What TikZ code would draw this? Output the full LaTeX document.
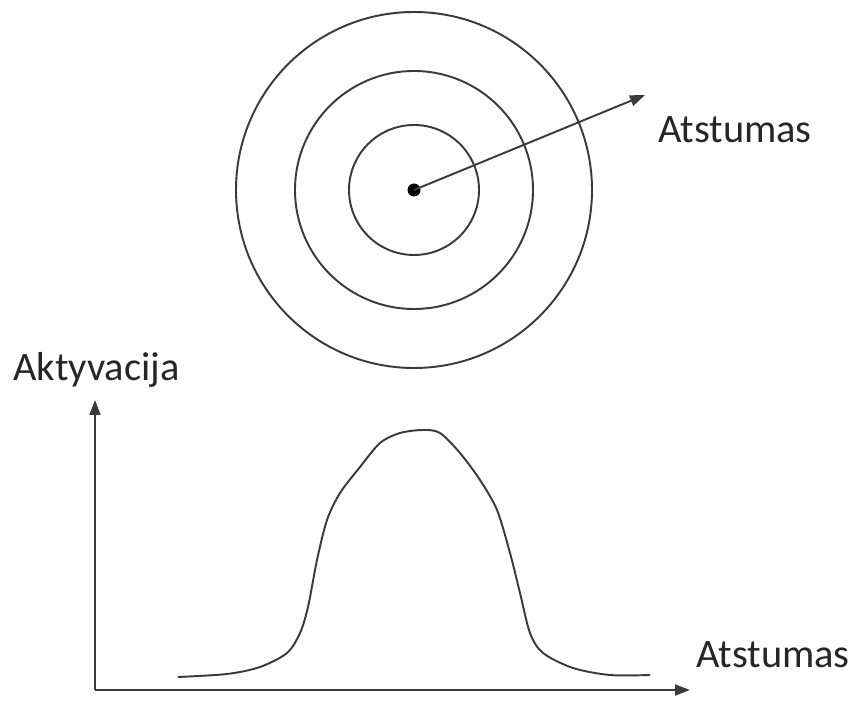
\documentclass[tikz,border=0pt]{standalone}
\usepackage{fontspec}
\setmainfont{Carlito}
\usetikzlibrary{arrows.meta}
\definecolor{inkgrey}{HTML}{3A3A3A}

\begin{document}
\begin{tikzpicture}[>={Triangle[length=0.3cm,width=0.22cm]},
  line width=1.1pt, draw=inkgrey,
  ring/.style={draw=inkgrey, circle, inner sep=0pt, minimum size=#1},
  dot/.style={fill=black, circle, inner sep=0pt, minimum size=0.26cm},
  lbl/.style={font=\fontsize{23}{28}\selectfont, text=black!85, inner sep=0pt}]

  \useasboundingbox (0,0) rectangle (17.1,14);

  % ---- top: rings round the centre ----
  \node[dot] (ctr) at (8.28,10.2) {};
  \node[ring=2.6cm] (r1) at (ctr) {};
  \node[ring=4.76cm] (r2) at (ctr) {};
  \node[ring=7.12cm] (r3) at (ctr) {};

  \coordinate (dirtip) at (12.9,12.1);
  \draw[->, draw=inkgrey] (ctr.center) -- (dirtip);
  \node[lbl] (dist) at (14.7,11.4) {Atstumas};

  % ---- bottom: activation over distance ----
  \coordinate (origin) at (1.9,0.2);
  \coordinate (ytip) at (1.9,6.0);
  \coordinate (xtip) at (13.8,0.2);
  \draw[->, draw=inkgrey] (origin) -- (ytip);
  \draw[->, draw=inkgrey] (origin) -- (xtip);
  \node[lbl] (act) at (1.93,6.6) {Aktyvacija};
  \node[lbl] (xdist) at (15.46,0.9) {Atstumas};

  \draw[inkgrey] plot[smooth, tension=0.5] coordinates {
    (3.56,0.46) (4.54,0.52) (5.2,0.66) (5.74,0.94) (6.0,1.34) (6.16,1.86)
    (6.34,2.8) (6.54,3.6) (6.8,4.14) (7.2,4.66) (7.6,5.14) (8.0,5.34)
    (8.46,5.4) (8.8,5.34) (9.2,4.94) (9.6,4.4) (9.94,3.8) (10.2,2.94)
    (10.4,2.14) (10.6,1.34) (10.86,0.94) (11.46,0.64) (12.2,0.5) (13.0,0.5)};

\end{tikzpicture}
\end{document}
